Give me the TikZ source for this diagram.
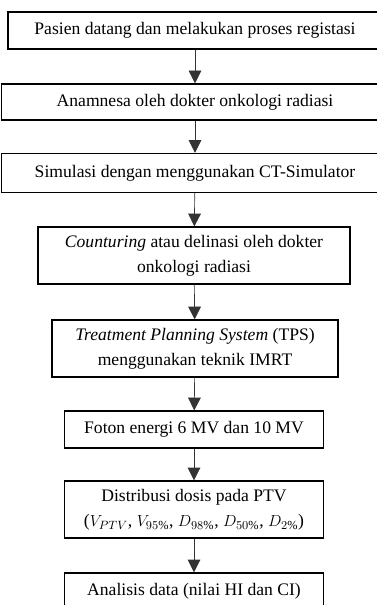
\documentclass[tikz,border=0pt]{standalone}
\usepackage{fontspec}
\setmainfont{Liberation Serif}
\usetikzlibrary{arrows.meta}
\tikzset{
    every node/.style={rectangle, draw, line width=1pt, align=center, inner sep=0mm, font=\fontsize{13.2}{19}\selectfont}
}
\tikzset{flow/.style={line width=0.5pt, black!80, -{Triangle[width=9.5pt, length=9.5pt]}}}
\begin{document}
\begin{tikzpicture}[x=0.75pt, y=-0.75pt]
  \useasboundingbox (0,0) rectangle (377,605);
  \clip (0,0) rectangle (377,605);

  \node (reg) [minimum width=280.5pt, minimum height=27.75pt] at (195, 30.5) {Pasien datang dan melakukan proses registasi};
  \node (anam) [minimum width=290pt, minimum height=27pt] at (195, 102) {Anamnesa oleh dokter onkologi radiasi};
  \node (sim) [minimum width=290pt, minimum height=29.25pt] at (195, 173) {Simulasi dengan menggunakan CT-Simulator};
  \node (cont) [minimum width=234pt, minimum height=42.75pt] at (194, 255.5) {\textit{Counturing} atau delinasi oleh dokter\\onkologi radiasi};
  \node (tps) [minimum width=214.5pt, minimum height=42.75pt] at (195, 348.5) {\textit{Treatment Planning System} (TPS)\\menggunakan teknik IMRT};
  \node (foton) [minimum width=194.25pt, minimum height=27.75pt] at (194, 429.5) {Foton energi 6 MV dan 10 MV};
  \node (dist) [minimum width=194.25pt, minimum height=42.75pt] at (194, 509.5) {Distribusi dosis pada PTV\\($V_{PTV}$, $V_{95\%}$, $D_{98\%}$, $D_{50\%}$, $D_{2\%}$)};
  \node (anal) [minimum width=194.25pt, minimum height=27.75pt] at (194, 591.5) {Analisis data (nilai HI dan CI)};

  \draw (reg) edge[flow] (anam);
  \draw (anam) edge[flow] (sim);
  \draw (sim) edge[flow] (cont);
  \draw (cont) edge[flow] (tps);
  \draw (tps) edge[flow] (foton);
  \draw (foton) edge[flow] (dist);
  \draw (dist) edge[flow] (anal);
\end{tikzpicture}
\end{document}
